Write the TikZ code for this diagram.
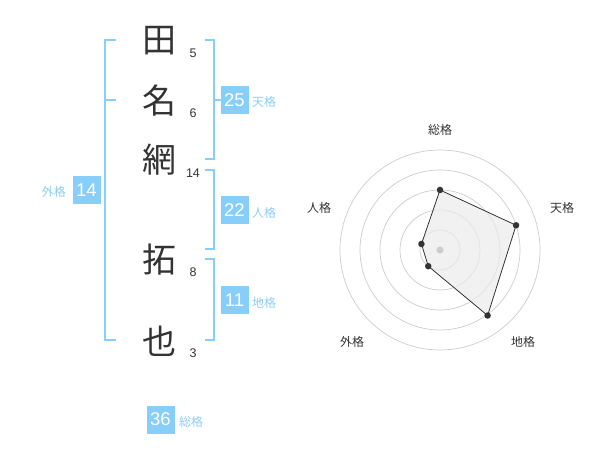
\documentclass[tikz,border=0pt]{standalone}
\usepackage{fontspec}
\usetikzlibrary{calc}
\setmainfont{Liberation Sans}
\newfontfamily\jp{Noto Sans CJK JP}
\definecolor{sky}{HTML}{87CEFA}
\definecolor{skytxt}{HTML}{8CCDF5}
\definecolor{ink}{HTML}{333333}
\definecolor{ring}{HTML}{CCCCCC}
\begin{document}
\begin{tikzpicture}[x=1pt,y=-1pt,
  kanji/.style={font=\jp\fontsize{34}{34}\selectfont, text=ink, inner sep=0pt},
  stroke/.style={font=\fontsize{12.5}{12.5}\selectfont, text=ink, inner sep=0pt},
  bracket/.style={draw=sky, line width=2pt},
  valbox/.style={fill=sky, text=white, minimum width=28pt, minimum height=28pt, inner sep=0pt, font=\fontsize{18.5}{18.5}\selectfont},
  kaku/.style={text=skytxt, inner sep=0pt, font=\jp\fontsize{12}{12}\selectfont},
  axlabel/.style={text=ink, inner sep=0pt, font=\jp\fontsize{12}{12}\selectfont},
  pt/.style={circle, fill=ink, inner sep=0pt, minimum size=6.5pt}]
\useasboundingbox (0,0) rectangle (600,470);
% characters
\node[kanji] (k1) at (159,41) {田};
\node[kanji] (k2) at (159,101) {名};
\node[kanji] (k3) at (159,160) {網};
\node[kanji] (k4) at (159,260) {拓};
\node[kanji] (k5) at (159,341) {也};
\node[stroke] (s1) at (193,53) {5};
\node[stroke] (s2) at (193,113) {6};
\node[stroke] (s3) at (193,173) {14};
\node[stroke] (s4) at (193,272) {8};
\node[stroke] (s5) at (193,353) {3};
% brackets
\coordinate (t1) at (205,40); \coordinate (t2) at (205,159);
\draw[bracket] (t1) -| (214,159) -- (t2);
\coordinate (tm) at (221,100);
\draw[bracket] (214,100) -- (tm);
\coordinate (j1) at (205,170); \coordinate (j2) at (205,249);
\draw[bracket] (j1) -| (214,249) -- (j2);
\coordinate (c1) at (205,259); \coordinate (c2) at (205,340);
\draw[bracket] (c1) -| (214,340) -- (c2);
\coordinate (g1) at (116,40); \coordinate (g2) at (116,340); \coordinate (gm) at (116,100);
\draw[bracket] (g1) -| (105,340) -- (g2);
\draw[bracket] (105,100) -- (gm);
% value boxes
\node[valbox] (b1) at (234.5,100) {25};
\node[kaku, anchor=west] (l1) at (252,102) {天格};
\node[valbox] (b2) at (234.5,210) {22};
\node[kaku, anchor=west] (l2) at (252,213) {人格};
\node[valbox] (b3) at (234.5,300.5) {11};
\node[kaku, anchor=west] (l3) at (252,303) {地格};
\node[valbox] (b4) at (86.5,190.5) {14};
\node[kaku, anchor=east] (l4) at (66,192) {外格};
\node[valbox] (b5) at (160.5,419.5) {36};
\node[kaku, anchor=west] (l5) at (179,422) {総格};
% radar
\coordinate (O) at (440,250);
\foreach \r in {20,40,60,80,100} \draw[ring, line width=0.7pt] (O) circle (\r);
\coordinate (p1) at ($(O)+(0,-60)$);
\coordinate (p2) at ($(O)+({80*cos(18)},{-80*sin(18)})$);
\coordinate (p3) at ($(O)+({81*cos(54)},{81*sin(54)})$);
\coordinate (p4) at ($(O)+({-20*cos(54)},{20*sin(54)})$);
\coordinate (p5) at ($(O)+({-19.5*cos(18)},{-19.5*sin(18)})$);
\draw[ink, line width=0.8pt, fill=black!8, fill opacity=0.7] (p1) -- (p2) -- (p3) -- (p4) -- (p5) -- cycle;
\node[circle, fill=ring, inner sep=0pt, minimum size=7pt] (ctr) at (O) {};
\foreach \p in {p1,p2,p3,p4,p5} \node[pt] at (\p) {};
\node[axlabel] (a1) at (440,130) {総格};
\node[axlabel] (a2) at (562,208) {天格};
\node[axlabel] (a3) at (523,342) {地格};
\node[axlabel] (a4) at (352,342) {外格};
\node[axlabel] (a5) at (319,208) {人格};
\end{tikzpicture}
\end{document}
